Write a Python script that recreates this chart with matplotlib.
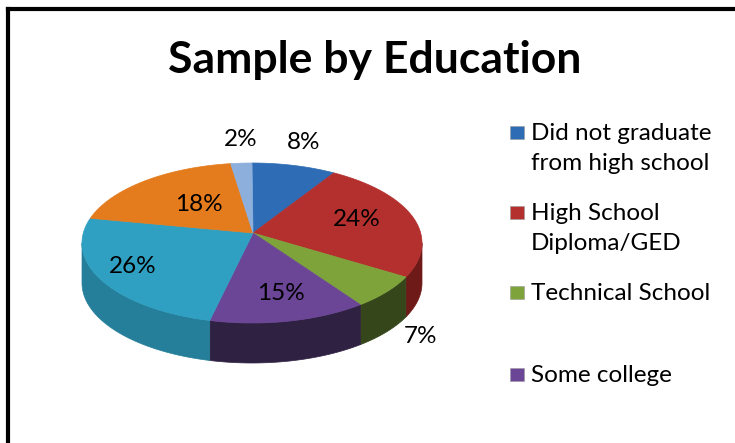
import numpy as np
import matplotlib
matplotlib.use("Agg")
import matplotlib.pyplot as plt
from matplotlib.patches import Polygon, Rectangle

plt.rcParams["font.family"] = ["Lato", "DejaVu Sans"]

# Education breakdown of the sample, clockwise from 12 o'clock
categories = [
    "Did not graduate\nfrom high school",
    "High School\nDiploma/GED",
    "Technical School",
    "Some college",
    "College graduate",
    "Graduate degree",
    "Other",
]
shares = [8, 24, 7, 15, 26, 18, 2]
pct_labels = ["8%", "24%", "7%", "15%", "26%", "18%", "2%"]
legend_shown = 4  # the legend box only has room for the first four entries

top_colors = ["#2e6db5", "#b3302e", "#7ea33a", "#6b4596", "#2fa0c2", "#e47c1e", "#8cafdc"]
side_colors = ["#1f4c80", "#6e1a18", "#34461a", "#2f2142", "#257f9a", "#9c5212", "#5f7fa8"]

# pie geometry in pixel units
CX, CY = 252, 243
A, B = 170, 80
DEPTH = 40
APEX = (253, 233)
LABEL_C = (253, 235)
label_r = [1.2, 0.64, 1.25, 0.75, 0.81, 0.5, 1.2]


def rim(theta, drop=0.0):
    t = np.radians(theta)
    return CX + A * np.sin(t), CY - B * np.cos(t) + drop


fig = plt.figure(figsize=(7.35, 4.43), dpi=100)
ax = fig.add_axes([0, 0, 1, 1])
ax.set_xlim(0, 735)
ax.set_ylim(443, 0)
ax.axis("off")

bounds = np.concatenate([[0], np.cumsum(shares)]) / sum(shares) * 360.0

# side walls (only the front half of the cylinder is visible)
for i in range(len(shares)):
    lo, hi = max(bounds[i], 90), min(bounds[i + 1], 270)
    if hi <= lo:
        continue
    ts = np.linspace(lo, hi, 60)
    xt, yt = rim(ts)
    xb, yb = rim(ts[::-1], DEPTH)
    pts = np.column_stack([np.concatenate([xt, xb]), np.concatenate([yt, yb])])
    ax.add_patch(Polygon(pts, closed=True, facecolor=side_colors[i],
                         edgecolor=side_colors[i], lw=0.5, zorder=1))

# top faces
for i in range(len(shares)):
    ts = np.linspace(bounds[i], bounds[i + 1], 80)
    xt, yt = rim(ts)
    pts = np.vstack([[APEX], np.column_stack([xt, yt])])
    ax.add_patch(Polygon(pts, closed=True, facecolor=top_colors[i],
                         edgecolor=top_colors[i], lw=0.5, zorder=2))

# percentage labels
for i, lab in enumerate(pct_labels):
    mid = np.radians((bounds[i] + bounds[i + 1]) / 2)
    r = label_r[i]
    x = LABEL_C[0] + r * A * np.sin(mid)
    y = LABEL_C[1] - r * B * np.cos(mid)
    if r > 1 and np.cos(mid) < 0:
        y += DEPTH
    ax.text(x, y, lab, ha="center", va="center", fontsize=17.5, color="black", zorder=3)

# legend
leg_y = [133, 213, 293, 375]
for i in range(legend_shown):
    ax.add_patch(Rectangle((510, leg_y[i] - 7), 14, 13, facecolor=top_colors[i],
                           edgecolor="#9a9a9a", lw=0.4, zorder=3))
    for j, line in enumerate(categories[i].split("\n")):
        ax.text(531, leg_y[i] + 30 * j, line, ha="left", va="center",
                fontsize=17.5, color="black")

ax.text(375, 60, "Sample by Education", ha="center", va="center",
        fontsize=32, fontweight="bold", color="black")

# chart border (left and top edges)
ax.plot([8, 8], [443, 9], color="black", lw=3, solid_capstyle="projecting")
ax.plot([8, 735], [9, 9], color="black", lw=3, solid_capstyle="projecting")

fig.savefig("out.png", dpi=100)
